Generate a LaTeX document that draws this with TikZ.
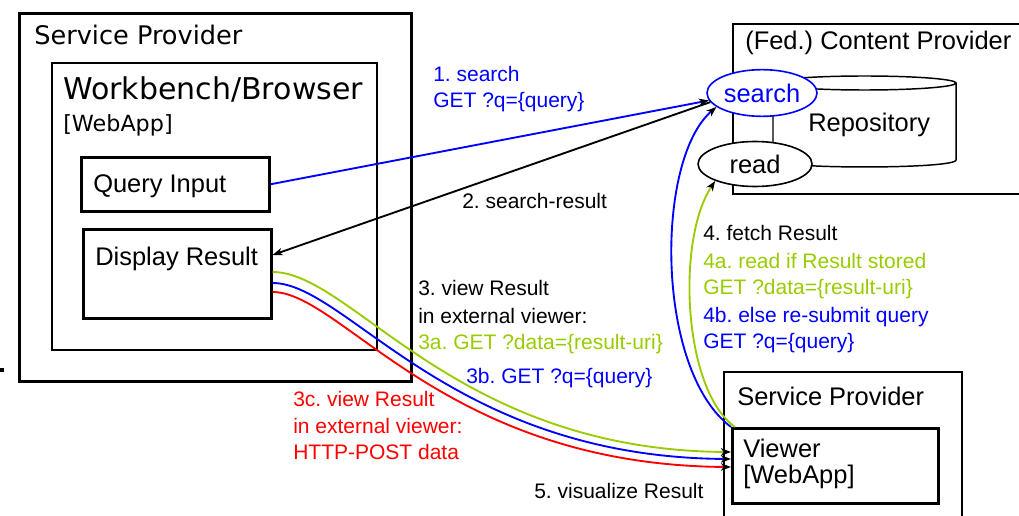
\documentclass[tikz,border=0pt]{standalone}
\usepackage{fontspec}
\setmainfont{Liberation Sans}
\newfontfamily\dejavu{DejaVu Sans}
\usetikzlibrary{arrows.meta,shapes.geometric,calc}
\definecolor{reqblue}{RGB}{0,0,255}
\definecolor{reqgreen}{RGB}{153,204,0}
\definecolor{reqred}{RGB}{255,0,0}
\frenchspacing
\begin{document}
\begin{tikzpicture}[x=0.75pt,y=-0.75pt,
  box/.style={draw,rectangle,inner sep=0pt,anchor=north west},
  txt/.style={anchor=base west,inner sep=0pt,font=\fontsize{19.1pt}{22pt}\selectfont},
  lbl/.style={anchor=base west,inner sep=0pt,font=\fontsize{15.75pt}{18pt}\selectfont},
  op/.style={draw,ellipse,fill=white,inner sep=0pt,line width=1.2pt,
    font=\fontsize{19.1pt}{22pt}\selectfont},
  flow/.style={line width=1.4pt,-{Stealth[black,length=7.5pt,width=5.5pt,inset=2pt]}}]
\useasboundingbox (0,0) rectangle (1019,516);
\clip (0,0) rectangle (1019,516);

% left service provider with the workbench
\node[box,line width=2.25pt,minimum width=294pt,minimum height=276pt] (sp1) at (18,12) {};
\node[box,line width=1.5pt,minimum width=243.75pt,minimum height=215.25pt] (wb) at (51,62) {};
\node[box,line width=1.9pt,minimum width=141pt,minimum height=40.5pt] (qi) at (80,156) {};
\node[box,line width=1.9pt,minimum width=141pt,minimum height=66.75pt] (dr) at (82,228) {};
\node[txt,font=\dejavu\fontsize{19.2pt}{22pt}\selectfont] (sp1t) at (34,45) {Service Provider};
\node[txt,font=\dejavu\fontsize{22.5pt}{26pt}\selectfont] (wbt) at (63,100) {Workbench/Browser};
\node[txt,font=\dejavu\fontsize{16.7pt}{19pt}\selectfont] (wbw) at (63,132) {[WebApp]};
\node[txt] (qit) at (93,193) {Query Input};
\node[txt] (drt) at (95,266) {Display Result};
\fill (0,368) rectangle (4,372);

% content provider with its repository
\node[box,line width=1.8pt,minimum width=217.5pt,minimum height=127.5pt] (cp) at (732,23) {};
\node[txt] (cpt) at (745,50) {(Fed.) Content Provider};
\draw[line width=1.1pt,fill=white] (773,83) -- (773,160)
  .. controls (773,169.3) and (956,169.3) .. (956,160) -- (956,83);
\draw[line width=1.1pt] (864.5,83) ellipse[x radius=91.5,y radius=7];
\node[txt] (repo) at (808,132) {Repository};
\node[op,draw=reqblue,text=reqblue,minimum width=82.5pt,minimum height=35pt] (search) at (762,93) {search};
\node[op,minimum width=85.5pt,minimum height=33.75pt] (read) at (755,164) {read};

% right service provider with the viewer
\node[box,line width=1.2pt,minimum width=178.5pt,minimum height=120pt] (sp2) at (723,371) {};
\node[txt] (sp2t) at (737,405) {Service Provider};
\node[box,line width=2.25pt,minimum width=154.5pt,minimum height=56.25pt] (vw) at (731,427) {};
\node[txt] (vwt) at (743,457) {Viewer};
\node[txt] (vww) at (743,483) {[WebApp]};

% request flows
\draw[flow,reqblue] (qi.east) -- (search.188);
\draw[flow] (search.190) -- ($(dr.north east)+(0,27)$);
\draw[flow,reqgreen] ($(dr.north east)+(0,44)$) .. controls (352,272) and (455,450) .. ($(vw.north west)+(0,25)$);
\draw[flow,reqblue] ($(dr.north east)+(0,55)$) .. controls (347,283) and (450,457) .. ($(vw.north west)+(0,32)$);
\draw[flow,reqred] ($(dr.north east)+(0,64)$) .. controls (342,292) and (445,465) .. ($(vw.north west)+(0,40)$);
\draw[flow,reqblue] (vw.north west) .. controls (655,370) and (655,160) .. (search.197);
\draw[flow,reqgreen] ($(vw.north west)+(4,0)$) .. controls (683,390) and (676,240) .. (read.203);

% flow labels
\node[lbl,text=reqblue] (l1a) at (433,82) {1. search};
\node[lbl,text=reqblue] (l1b) at (433,108) {GET ?q=\{query\}};
\node[lbl] (l2) at (462,209) {2. search-result};
\node[lbl] (l3a) at (418,296) {3. view Result};
\node[lbl] (l3b) at (418,323) {in external viewer:};
\node[lbl,text=reqgreen] (l3c) at (418,349) {3a. GET ?data=\{result-uri\}};
\node[lbl,text=reqblue] (l3d) at (466,383) {3b. GET ?q=\{query\}};
\node[lbl,text=reqred] (l3e) at (293,406) {3c. view Result};
\node[lbl,text=reqred] (l3f) at (293,433) {in external viewer:};
\node[lbl,text=reqred] (l3g) at (293,459) {HTTP-POST data};
\node[lbl] (l4a) at (703,241) {4. fetch Result};
\node[lbl,text=reqgreen] (l4b) at (703,268) {4a. read if Result stored};
\node[lbl,text=reqgreen] (l4c) at (703,295) {GET ?data=\{result-uri\}};
\node[lbl,text=reqblue] (l4d) at (703,322) {4b. else re-submit query};
\node[lbl,text=reqblue] (l4e) at (703,348) {GET ?q=\{query\}};
\node[lbl] (l5) at (534,498) {5. visualize Result};
\end{tikzpicture}
\end{document}
